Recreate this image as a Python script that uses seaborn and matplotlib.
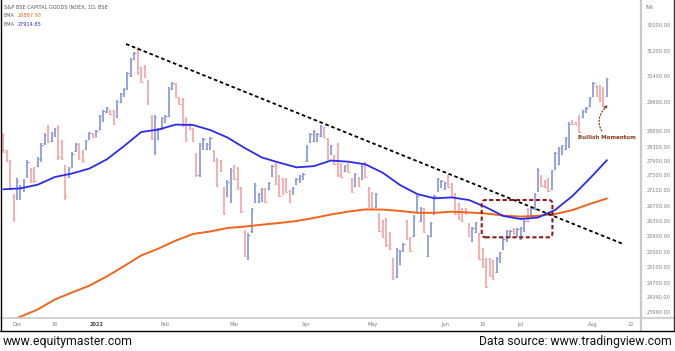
import numpy as np
import pandas as pd
import matplotlib
matplotlib.use("Agg")
import matplotlib.pyplot as plt
import seaborn as sns
from matplotlib.patches import FancyBboxPatch
from matplotlib.lines import Line2D
from matplotlib.transforms import IdentityTransform
from matplotlib import font_manager

# trading days shown on the chart (NSE/BSE holidays removed)
holidays = ["2022-01-26", "2022-03-01", "2022-03-18", "2022-04-14", "2022-04-15", "2022-05-03"]
dates = pd.bdate_range("2021-11-25", "2022-08-05")
dates = dates[~dates.isin(pd.to_datetime(holidays))]

opens = [28650, 28150, 27850, 26950, 26950, 26900, 27100, 27480, 27650, 27680,
         27760, 27950, 28400, 28900, 28480, 28640, 28900, 28450, 27700, 27460,
         27740, 28180, 28380, 28150, 28240, 28530, 28710, 28620, 28850, 29080,
         29310, 29360, 29340, 29200, 29600, 29780, 30000, 30420, 30930, 31250,
         30640, 30700, 30230, 29180, 28150, 28540, 28850, 29040, 29220, 30000,
         30150, 29730, 29680, 29130, 28990, 28840, 28080, 27500, 28240, 28230,
         28240, 28180, 27940, 27880, 27150, 26960, 26820, 27750, 27690, 27150,
         26010, 25330, 26020, 26800, 26800, 26820, 27130, 27130, 27480, 27800,
         27470, 27400, 27390, 27080, 27000, 27260, 27310, 27390, 27900, 28440,
         28470, 28470, 28630, 28880, 28540, 28090, 28030, 28380, 27800, 27610,
         27810, 27400, 27220, 27430, 27400, 27830, 27150, 27020, 26670, 26470,
         26290, 26330, 25970, 25300, 24860, 25190, 25510, 26280, 25850, 25900,
         26530, 26290, 26600, 25400, 25900, 26480, 27080, 27180, 27130, 27480,
         27260, 27000, 26740, 26610, 26620, 26210, 25780, 26000, 25940, 25560,
         25300, 25300, 25250, 24980, 25230, 25570, 25770, 25870, 26090, 25900,
         25820, 26030, 26600, 26420, 26610, 27090, 27480, 27350, 27400, 27140,
         27680, 27810, 28090, 28230, 28300, 29080, 29030, 29200, 29170, 29310,
         29480, 29780, 30100, 30090, 30030, 29780]
highs = [28728, 28206, 27920, 27004, 27428, 27242, 27402, 27920, 27700, 27727,
         28006, 28416, 28728, 28959, 28759, 28875, 28959, 28509, 27782, 27727,
         28149, 28416, 28416, 28206, 28509, 28759, 28728, 28819, 29237, 29377,
         29460, 29377, 29377, 29662, 29877, 30030, 30527, 30969, 31159, 31316,
         30685, 30748, 30277, 29237, 29237, 28875, 29182, 29237, 30061, 30215,
         30184, 29754, 29723, 29182, 29014, 28875, 28120, 28416, 28572, 28416,
         28603, 28206, 27977, 27920, 27188, 27375, 27700, 27782, 27727, 27188,
         26057, 25979, 26639, 27295, 27030, 27161, 27161, 27322, 27782, 27837,
         27508, 27428, 27428, 27108, 27188, 27428, 27508, 27563, 28353, 28728,
         28819, 28728, 28959, 28903, 28572, 28353, 28063, 28416, 27837, 27782,
         27837, 27428, 27563, 27455, 27782, 27864, 27188, 27056, 27030, 26505,
         26319, 26372, 26005, 25339, 25594, 25543, 25722, 26319, 25875, 26452,
         26978, 26665, 26639, 25926, 26266, 26978, 27428, 27375, 27322, 27508,
         27295, 27030, 26770, 26639, 26639, 26240, 26136, 26266, 25979, 25594,
         25339, 25339, 25288, 25364, 25492, 25849, 26057, 26057, 26109, 26109,
         26136, 26319, 26639, 26665, 27030, 27700, 27508, 27375, 27428, 27645,
         28149, 28291, 28353, 28603, 29042, 29098, 29042, 29237, 29377, 29460,
         29754, 30215, 30123, 30123, 30061, 30338]
lows = [28120, 27864, 27108, 26266, 26848, 26848, 27056, 27428, 27295, 27295,
        27727, 27864, 28353, 28416, 28447, 28603, 27920, 27920, 26848, 27428,
        27700, 28149, 27920, 27837, 28206, 28509, 28572, 28603, 28819, 29042,
        29293, 29237, 28959, 29154, 29572, 29754, 29969, 30369, 30906, 30432,
        30184, 30338, 29516, 28509, 28063, 28509, 28819, 29014, 29182, 29969,
        29723, 29516, 28903, 28447, 28819, 28447, 27455, 27455, 28206, 28206,
        28206, 27864, 27188, 27590, 26452, 26926, 26770, 27375, 27108, 26505,
        25364, 25288, 25979, 26770, 26770, 26796, 26770, 27108, 27455, 27242,
        26926, 26978, 27030, 26770, 26978, 27242, 27295, 27375, 27864, 28416,
        28447, 28447, 28603, 28572, 27920, 28063, 27782, 27455, 27428, 27590,
        27563, 27030, 27188, 27188, 27375, 27428, 26639, 26585, 26639, 26005,
        25849, 25620, 25543, 24770, 24822, 25160, 25492, 25798, 25492, 25875,
        26505, 26266, 25979, 25364, 25875, 26452, 27056, 27161, 27108, 27161,
        26926, 26452, 26319, 26266, 26452, 25875, 25747, 25979, 25288, 25082,
        24569, 24848, 24770, 24952, 25211, 25543, 25747, 25849, 25926, 25875,
        25798, 26005, 26266, 26398, 26585, 27056, 27188, 27161, 27056, 27108,
        27645, 27782, 28063, 28206, 28263, 28959, 28959, 28728, 29154, 29293,
        29460, 29754, 29754, 29600, 29460, 29754]
closes = [28200, 27900, 27200, 26350, 27350, 27180, 27350, 27860, 27350, 27340,
          27960, 28350, 28680, 28480, 28720, 28840, 28000, 27980, 26950, 27690,
          28100, 28380, 27980, 27880, 28470, 28720, 28590, 28790, 29200, 29340,
          29430, 29260, 29000, 29620, 29850, 29990, 30480, 30920, 31120, 30500,
          30230, 30380, 29560, 28560, 29180, 28840, 29150, 29210, 30000, 30180,
          29760, 29540, 28950, 28500, 28840, 28480, 27500, 28360, 28530, 28390,
          28570, 27900, 27230, 27620, 26500, 27330, 27650, 27400, 27150, 26550,
          25400, 25930, 26600, 27250, 27000, 27130, 26800, 27300, 27750, 27280,
          26960, 27010, 27060, 26800, 27160, 27400, 27480, 27540, 28300, 28700,
          28790, 28700, 28920, 28600, 27960, 28320, 27810, 27500, 27460, 27760,
          27590, 27060, 27530, 27220, 27750, 27460, 26680, 26620, 27000, 26040,
          25880, 25660, 25570, 24800, 25550, 25510, 25700, 25830, 25520, 26410,
          26940, 26630, 26010, 25890, 26230, 26940, 27400, 27350, 27300, 27190,
          26960, 26490, 26350, 26300, 26470, 25900, 26100, 26240, 25320, 25110,
          24600, 24880, 24800, 25330, 25470, 25820, 26030, 26030, 25950, 26080,
          26100, 26290, 26300, 26640, 27000, 27650, 27220, 27190, 27090, 27610,
          28110, 28250, 28320, 28570, 28990, 28980, 28970, 28760, 29350, 29440,
          29730, 30180, 29780, 29630, 29490, 30300]

# EMA values read every 5th session
ema200 = [23727, 23887, 24056, 24289, 24460, 24628, 24861, 25129, 25403, 25579,
          25783, 25953, 26018, 26109, 26146, 26196, 26240, 26292, 26372, 26465,
          26542, 26601, 26596, 26561, 26510, 26510, 26540, 26519, 26492, 26436,
          26409, 26430, 26479, 26583, 26744, 26888]
ema50 = [27126, 27152, 27250, 27455, 27550, 27686, 27937, 28316, 28759, 28833,
         28970, 28959, 28819, 28588, 28263, 27991, 27848, 27718, 27750, 27905,
         27873, 27800, 27570, 27242, 27004, 26892, 26915, 26848, 26655, 26425,
         26345, 26385, 26588, 26952, 27412, 27915]

# hand drawn trendline and highlight box (bar position, price)
trend_x = [35.6, 179.7]
trend_y = [31411, 25696]
box_x = [138.7, 159.2]
box_y = [25867, 26848]

tick_dates = ["2021-12-01", "2021-12-16", "2022-01-03", "2022-02-01", "2022-03-02", "2022-04-01",
              "2022-05-02", "2022-06-01", "2022-06-16", "2022-07-01", "2022-08-01"]
tick_labels = ["Dec", "16", "2022", "Feb", "Mar", "Apr", "May", "Jun", "16", "Jul", "Aug", "22"]

# the price axis of the screenshot is not evenly spaced: map labels to their heights
price_ticks = [32000, 31200, 30400, 29600, 28800, 28300, 27900, 27500, 27100, 26700,
               26300, 25900, 25500, 25100, 24700, 24340, 23990]
price_tick_px = [25.3, 50.7, 76, 102, 130.7, 146.7, 160.7, 175.3, 190.3, 205.7,
                 220.7, 236, 251.7, 267.3, 282.7, 297.3, 312.3]

scale_v = np.array([33000] + price_ticks + [23000], dtype=float)[::-1]
scale_p = -np.array([-6.4] + price_tick_px + [354.8])[::-1]


def fwd(v):
    return np.interp(v, scale_v, scale_p)


def inv(p):
    return np.interp(p, scale_p, scale_v)


BLUE_BAR = "#8494d8"
RED_BAR = "#f5a3a3"
BLUE = "#2b2bf0"
ORANGE = "#f2641a"
GREY = "#7c7c7c"

sns.set_style("white")
fig = plt.figure(figsize=(6.75, 3.51), dpi=100)
W, H = 675, 351
ax = fig.add_axes([2 / W, 33 / H, 639 / W, 317 / H])

x = np.arange(len(dates))
o = np.array(opens)
c = np.array(closes)
cols = np.where(c >= o, BLUE_BAR, RED_BAR)
ax.vlines(x, lows, highs, colors=cols, lw=1.2)
ax.hlines(o, x - 0.4, x, colors=cols, lw=0.8)
ax.hlines(c, x, x + 0.4, colors=cols, lw=0.8)

ema_x = dates.get_indexer(dates[::5])
sns.lineplot(x=ema_x, y=ema200, color=ORANGE, lw=1.4, ax=ax)
sns.lineplot(x=ema_x, y=ema50, color=BLUE, lw=1.3, ax=ax)
sns.lineplot(x=trend_x, y=trend_y, color="black", lw=1.3, linestyle=(0, (2.0, 1.5)), ax=ax)

ax.set_yscale("function", functions=(fwd, inv))
ax.set_xlim(-0.35, 184.87)
ax.set_ylim(inv(-318), inv(-1))
for s in ax.spines.values():
    s.set_visible(False)
ax.grid(False)
ax.set_xlabel("")
ax.set_ylabel("")

ax.yaxis.tick_right()
ax.set_yticks(price_ticks)
ax.set_yticklabels([f"{v:.2f}" for v in price_ticks])
ax.yaxis.set_minor_locator(matplotlib.ticker.NullLocator())
ax.tick_params(axis="y", length=0, pad=4.2, labelsize=3.6, labelcolor=GREY)

tick_pos = list(dates.get_indexer(pd.to_datetime(tick_dates))) + [len(dates) + 6]
ax.set_xticks(tick_pos)
ax.set_xticklabels(tick_labels)
ax.tick_params(axis="x", length=0, pad=3.2, labelsize=3.6, labelcolor=GREY)
ax.get_xticklabels()[2].set_fontweight("bold")
ax.get_xticklabels()[2].set_color("#444444")

# dashed rounded box around the crossover
fig.canvas.draw()
x0, y0 = ax.transData.transform((box_x[0], box_y[0]))
x1, y1 = ax.transData.transform((box_x[1], box_y[1]))
box = FancyBboxPatch((x0, y0), x1 - x0, y1 - y0, boxstyle="round,pad=0,rounding_size=4",
                     transform=IdentityTransform(), fill=False, ec="#8b1a1a", lw=1.5,
                     linestyle=(0, (2, 1.2)), clip_on=False)
fig.add_artist(box)

ax.annotate("Bullish Momentum", xy=(175.3, 29516), xytext=(166.6, 28572),
            ha="left", va="center", fontsize=4.0, fontweight="bold", color="#8b3a12",
            annotation_clip=False,
            arrowprops=dict(arrowstyle="-|>", linestyle=":", color="#8b3a12", lw=0.9,
                            mutation_scale=4, shrinkA=1, shrinkB=0,
                            connectionstyle="arc3,rad=-0.5"))


def fx(px):
    return px / W


def fy(py):
    return 1 - py / H


# frame lines like the screenshot
fig.add_artist(Line2D([fx(641), fx(641)], [fy(0), fy(331)], color="#c9c9c9", lw=1.6))
fig.add_artist(Line2D([fx(0), fx(674)], [fy(318.3), fy(318.3)], color="#c9c9c9", lw=1.2))
fig.add_artist(Line2D([fx(0.5), fx(0.5)], [fy(0), fy(331)], color="black", lw=1.0))
fig.add_artist(Line2D([fx(674), fx(674)], [fy(0), fy(331)], color="#333333", lw=1.0))
fig.add_artist(Line2D([fx(0), fx(675)], [fy(331), fy(331)], color="black", lw=1.0))

fig.text(fx(646), fy(7.5), "INR", fontsize=3.3, color=GREY, va="center")
fig.text(fx(4), fy(7), "S&P BSE CAPITAL GOODS INDEX, 1D, BSE", fontsize=3.6, color="#555555", va="center")
fig.text(fx(4), fy(15.5), "EMA", fontsize=3.6, color="#555555", va="center")
fig.text(fx(18), fy(15.5), "26887.93", fontsize=3.6, color=ORANGE, va="center")
fig.text(fx(4), fy(24), "EMA", fontsize=3.6, color="#555555", va="center")
fig.text(fx(18), fy(24), "27914.85", fontsize=3.6, color=BLUE, va="center")

names = {f.name for f in font_manager.fontManager.ttflist}
if "Liberation Sans Narrow" in names:
    foot_font, foot_size = "Liberation Sans Narrow", 10.8
else:
    foot_font, foot_size = "Roboto", 8.8
fig.text(fx(3), fy(342), "www.equitymaster.com", fontsize=foot_size, family=foot_font,
         color="#111111", va="center", ha="left")
fig.text(fx(672), fy(342), "Data source: www.tradingview.com", fontsize=foot_size, family=foot_font,
         color="#111111", va="center", ha="right")

fig.savefig("out.png", dpi=100)
